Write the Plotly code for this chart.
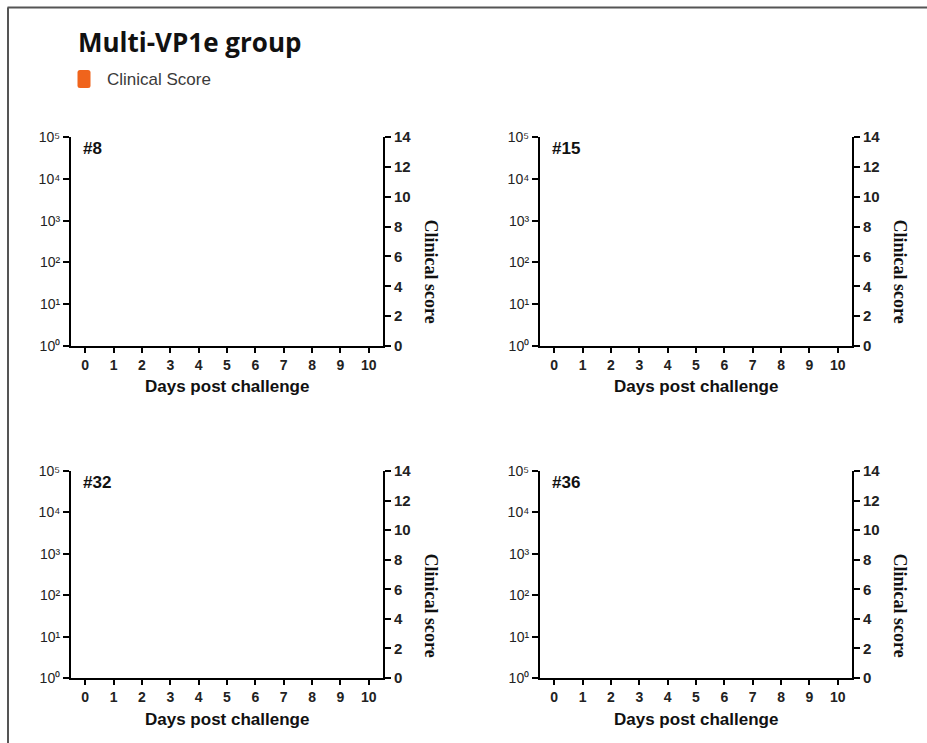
import plotly.graph_objects as go

# ---- data -------------------------------------------------------------
days = [0, 1, 2, 3, 4, 5, 6, 7, 8, 9, 10]
animal_ids = ["#8", "#15", "#32", "#36"]

# clinical score per day for each animal (no signs recorded)
score_8 = [0, 0, 0, 0, 0, 0, 0, 0, 0, 0, 0]
score_15 = [0, 0, 0, 0, 0, 0, 0, 0, 0, 0, 0]
score_32 = [0, 0, 0, 0, 0, 0, 0, 0, 0, 0, 0]
score_36 = [0, 0, 0, 0, 0, 0, 0, 0, 0, 0, 0]
scores = [score_8, score_15, score_32, score_36]

load_tick_vals = [1, 10, 100, 1000, 10000, 100000]
load_tick_text = ["10⁰", "10¹", "10²", "10³", "10⁴", "10⁵"]
score_tick_vals = [0, 2, 4, 6, 8, 10, 12, 14]

# ---- geometry ---------------------------------------------------------
W, H = 927, 743
ORANGE = "#f0641c"


def px(x):
    return x / W


def py(y):
    return 1 - y / H


def sfx(n):
    return "" if n == 1 else str(n)


col_px = [(71, 383), (540, 852)]
row_px = [(137, 346), (471, 678)]

fig = go.Figure()
layout = {}
annotations = []

sans = "Liberation Sans, Arial, sans-serif"
narrow = "Liberation Sans Narrow, Arial Narrow, Liberation Sans, Arial, sans-serif"
serif = "Liberation Serif, Times New Roman, serif"

axis_common = dict(
    showline=True, linecolor="black", linewidth=2,
    ticks="outside", tickwidth=2, tickcolor="black",
    showgrid=False, zeroline=False, automargin=False,
)

for i, (aid, sc) in enumerate(zip(animal_ids, scores)):
    r, c = divmod(i, 2)
    xl, xr = col_px[c]
    yt, yb = row_px[r]
    xn = i + 1
    yl = 2 * i + 1
    yr = 2 * i + 2

    # empty series on the log axis so the primary subplot is registered
    fig.add_trace(go.Scatter(
        x=[], y=[], mode="lines", showlegend=False, hoverinfo="skip",
        xaxis="x" + sfx(xn), yaxis="y" + sfx(yl),
    ))
    fig.add_trace(go.Bar(
        x=days, y=sc, name="Clinical Score",
        marker_color=ORANGE, showlegend=False,
        xaxis="x" + sfx(xn), yaxis="y" + sfx(yr),
    ))

    layout["xaxis" + sfx(xn)] = dict(
        axis_common,
        domain=[px(xl), px(xr)], anchor="y" + sfx(yl),
        range=[-0.5, 10.5], tickvals=days, ticklen=5,
        tickfont=dict(family=narrow, size=14, color="#222", weight="bold"),
    )
    layout["yaxis" + sfx(yl)] = dict(
        axis_common,
        domain=[py(yb), py(yt)], anchor="x" + sfx(xn),
        type="log", range=[0, 5], ticklen=6,
        tickvals=load_tick_vals, ticktext=load_tick_text,
        tickfont=dict(family=sans, size=14, color="#222"),
    )
    layout["yaxis" + sfx(yr)] = dict(
        axis_common,
        overlaying="y" + sfx(yl), anchor="x" + sfx(xn), side="right",
        range=[0, 14], tickvals=score_tick_vals, ticklen=6,
        tickfont=dict(family=narrow, size=15, color="#222", weight="bold"),
    )

    # animal label inside panel
    annotations.append(dict(
        text=aid, xref="paper", yref="paper",
        x=px(xl + 10), y=py(yt + 11), xanchor="left", yanchor="middle",
        showarrow=False,
        font=dict(family=sans, size=17, color="#111", weight="bold"),
    ))
    # x axis title
    annotations.append(dict(
        text="Days post challenge", xref="paper", yref="paper",
        x=px((xl + xr) / 2), y=py(yb + 41), xanchor="center", yanchor="middle",
        showarrow=False,
        font=dict(family=sans, size=17, color="#111", weight="bold"),
    ))
    # right axis title
    annotations.append(dict(
        text="Clinical score", xref="paper", yref="paper",
        x=px(xr + 48), y=py(yt + 134.5), xanchor="center", yanchor="middle",
        textangle=90, showarrow=False,
        font=dict(family=serif, size=18, color="#111", weight="bold"),
    ))

# figure title and legend entry
annotations.append(dict(
    text="Multi-VP1e group", xref="paper", yref="paper",
    x=px(76), y=py(42), xanchor="left", yanchor="middle", showarrow=False,
    font=dict(family="Open Sans, Lato, sans-serif", size=26, color="#111", weight="bold"),
))
annotations.append(dict(
    text="Clinical Score", xref="paper", yref="paper",
    x=px(105), y=py(79), xanchor="left", yanchor="middle", showarrow=False,
    font=dict(family=sans, size=17, color="#3a3a3a"),
))

# rounded legend swatch
x0, x1, y0, y1, rr = 77.5, 90.5, 70, 88, 2.5
swatch = (
    f"M {px(x0 + rr)},{py(y0)} L {px(x1 - rr)},{py(y0)} "
    f"Q {px(x1)},{py(y0)} {px(x1)},{py(y0 + rr)} L {px(x1)},{py(y1 - rr)} "
    f"Q {px(x1)},{py(y1)} {px(x1 - rr)},{py(y1)} L {px(x0 + rr)},{py(y1)} "
    f"Q {px(x0)},{py(y1)} {px(x0)},{py(y1 - rr)} L {px(x0)},{py(y0 + rr)} "
    f"Q {px(x0)},{py(y0)} {px(x0 + rr)},{py(y0)} Z"
)
shapes = [
    dict(type="path", path=swatch, xref="paper", yref="paper",
         fillcolor=ORANGE, line=dict(width=0)),
    # frame lines along the top and left edges
    dict(type="line", xref="paper", yref="paper",
         x0=px(7.5), x1=1, y0=py(7.5), y1=py(7.5),
         line=dict(color="#555", width=2)),
    dict(type="line", xref="paper", yref="paper",
         x0=px(8), x1=px(8), y0=py(7.5), y1=0,
         line=dict(color="#555", width=2)),
]

fig.update_layout(
    **layout,
    template="none",
    annotations=annotations,
    shapes=shapes,
    width=W, height=H, autosize=False,
    margin=dict(l=0, r=0, t=0, b=0, autoexpand=False),
    paper_bgcolor="white", plot_bgcolor="white",
    showlegend=False, bargap=0.3,
)

fig.write_html("out.html")
